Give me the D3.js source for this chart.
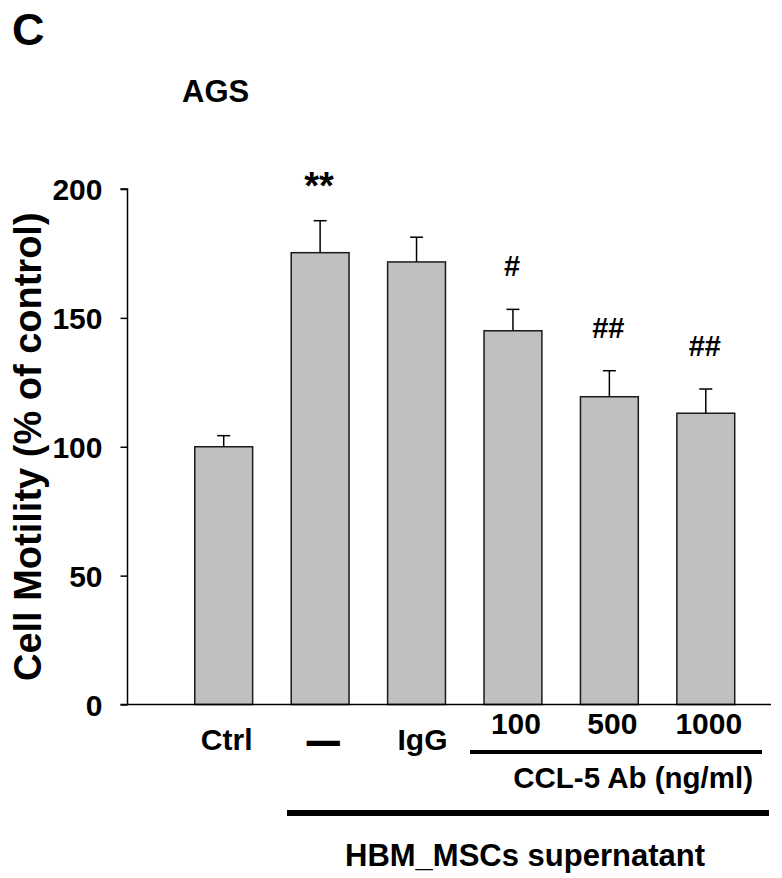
<!DOCTYPE html>
<html>
<head>
<meta charset="utf-8">
<script src="https://cdn.jsdelivr.net/npm/d3@7"></script>
<style>
  html, body { margin: 0; padding: 0; background: #fff; }
  svg { display: block; }
  text { font-family: Arial, "Liberation Sans", sans-serif; font-weight: bold; fill: #000; }
</style>
</head>
<body>
<div id="chart"></div>
<script>
// ---- data ----
const categories = ["Ctrl", "—", "IgG", "100", "500", "1000"];
const motility = [100, 175.3, 171.7, 145.0, 119.4, 113.0];
const errors = [4.3, 12.4, 9.6, 8.3, 10.1, 9.4];
const significance = ["", "**", "", "#", "##", "##"];
const yTicks = [0, 50, 100, 150, 200];
const panelLabel = "C";
const cellLine = "AGS";
const yLabel = "Cell Motility (% of control)";
const abGroupLabel = "CCL-5 Ab (ng/ml)";
const supGroupLabel = "HBM_MSCs supernatant";

// ---- layout ----
const W = 782, H = 878;
const axisX = 127.5, axisRight = 771;
const svg = d3.select("#chart").append("svg").attr("width", W).attr("height", H);

const y = d3.scaleLinear().domain([0, 200]).range([704.5, 189]);
const x = d3.scaleBand().domain(categories).range([175.5, 754]).paddingInner(0.4).paddingOuter(0.2);

// panel letter and title
svg.append("text").attr("x", 12).attr("y", 45).style("font-size", "45px").text(panelLabel);
svg.append("text").attr("x", 182).attr("y", 102).style("font-size", "31px").text(cellLine);

// y axis
const yAxis = d3.axisLeft(y).tickValues(yTicks).tickSize(7).tickPadding(18);
const gy = svg.append("g").attr("transform", `translate(${axisX},0)`).call(yAxis);
gy.select(".domain").attr("stroke", "#000").attr("stroke-width", 1.5).attr("d", `M-7,${y(200)}H0V${y(0)}`);
gy.selectAll(".tick line").attr("stroke", "#000").attr("stroke-width", 1.5);
gy.selectAll(".tick text").style("font-size", "30px").style("font-family", "Arial, 'Liberation Sans', sans-serif").style("font-weight", "bold").attr("fill", "#000").attr("dy", "0.36em");

// y label
svg.append("text")
  .attr("transform", `translate(41,${(y(0) + y(200)) / 2}) rotate(-90)`)
  .attr("text-anchor", "middle")
  .style("font-size", "38px")
  .text(yLabel);

// bars
svg.append("g").selectAll("rect").data(categories).join("rect")
  .attr("x", d => x(d))
  .attr("width", x.bandwidth())
  .attr("y", (d, i) => y(motility[i]))
  .attr("height", (d, i) => y(0) - y(motility[i]))
  .attr("fill", "#c0c0c0")
  .attr("stroke", "#1a1a1a")
  .attr("stroke-width", 1.5);

// error bars (upper only)
const eg = svg.append("g").attr("stroke", "#000").attr("stroke-width", 1.5);
categories.forEach((c, i) => {
  const cx = x(c) + x.bandwidth() / 2;
  const top = y(motility[i] + errors[i]);
  eg.append("line").attr("x1", cx).attr("x2", cx).attr("y1", y(motility[i])).attr("y2", top);
  eg.append("line").attr("x1", cx - 6.5).attr("x2", cx + 6.5).attr("y1", top).attr("y2", top);
});

// x axis line
svg.append("line").attr("x1", axisX - 7).attr("x2", axisRight)
  .attr("y1", y(0)).attr("y2", y(0)).attr("stroke", "#000").attr("stroke-width", 1.5);

// significance marks
categories.forEach((c, i) => {
  const s = significance[i];
  if (!s) return;
  const cx = x(c) + x.bandwidth() / 2;
  const top = y(motility[i] + errors[i]);
  const isStar = s.indexOf("*") >= 0;
  svg.append("text")
    .attr("x", cx - 1)
    .attr("y", top - (isStar ? 22 : 33))
    .attr("text-anchor", "middle")
    .style("font-size", isStar ? "38px" : "29px")
    .text(s);
});

// category labels
categories.forEach((c, i) => {
  const cx = x(c) + x.bandwidth() / 2;
  const isDose = i >= 3;
  const t = svg.append("text")
    .attr("x", cx + (i === 2 ? 6 : 3))
    .attr("y", isDose ? 734 : 750)
    .attr("text-anchor", "middle")
    .style("font-size", "30px")
    .text(c);
  if (c === "—") {
    t.attr("y", 752).style("font-size", "31px").attr("stroke", "#000").attr("stroke-width", 2.2);
  }
});

// CCL-5 Ab group line and label
svg.append("line").attr("x1", 470).attr("x2", 762).attr("y1", 752).attr("y2", 752)
  .attr("stroke", "#000").attr("stroke-width", 4);
svg.append("text").attr("x", 753).attr("y", 788).attr("text-anchor", "end")
  .style("font-size", "29.5px").text(abGroupLabel);

// supernatant group line and label
svg.append("line").attr("x1", 287).attr("x2", 769).attr("y1", 813).attr("y2", 813)
  .attr("stroke", "#000").attr("stroke-width", 6);
svg.append("text").attr("x", 525).attr("y", 866).attr("text-anchor", "middle")
  .style("font-size", "31px").text(supGroupLabel);
</script>
</body>
</html>
